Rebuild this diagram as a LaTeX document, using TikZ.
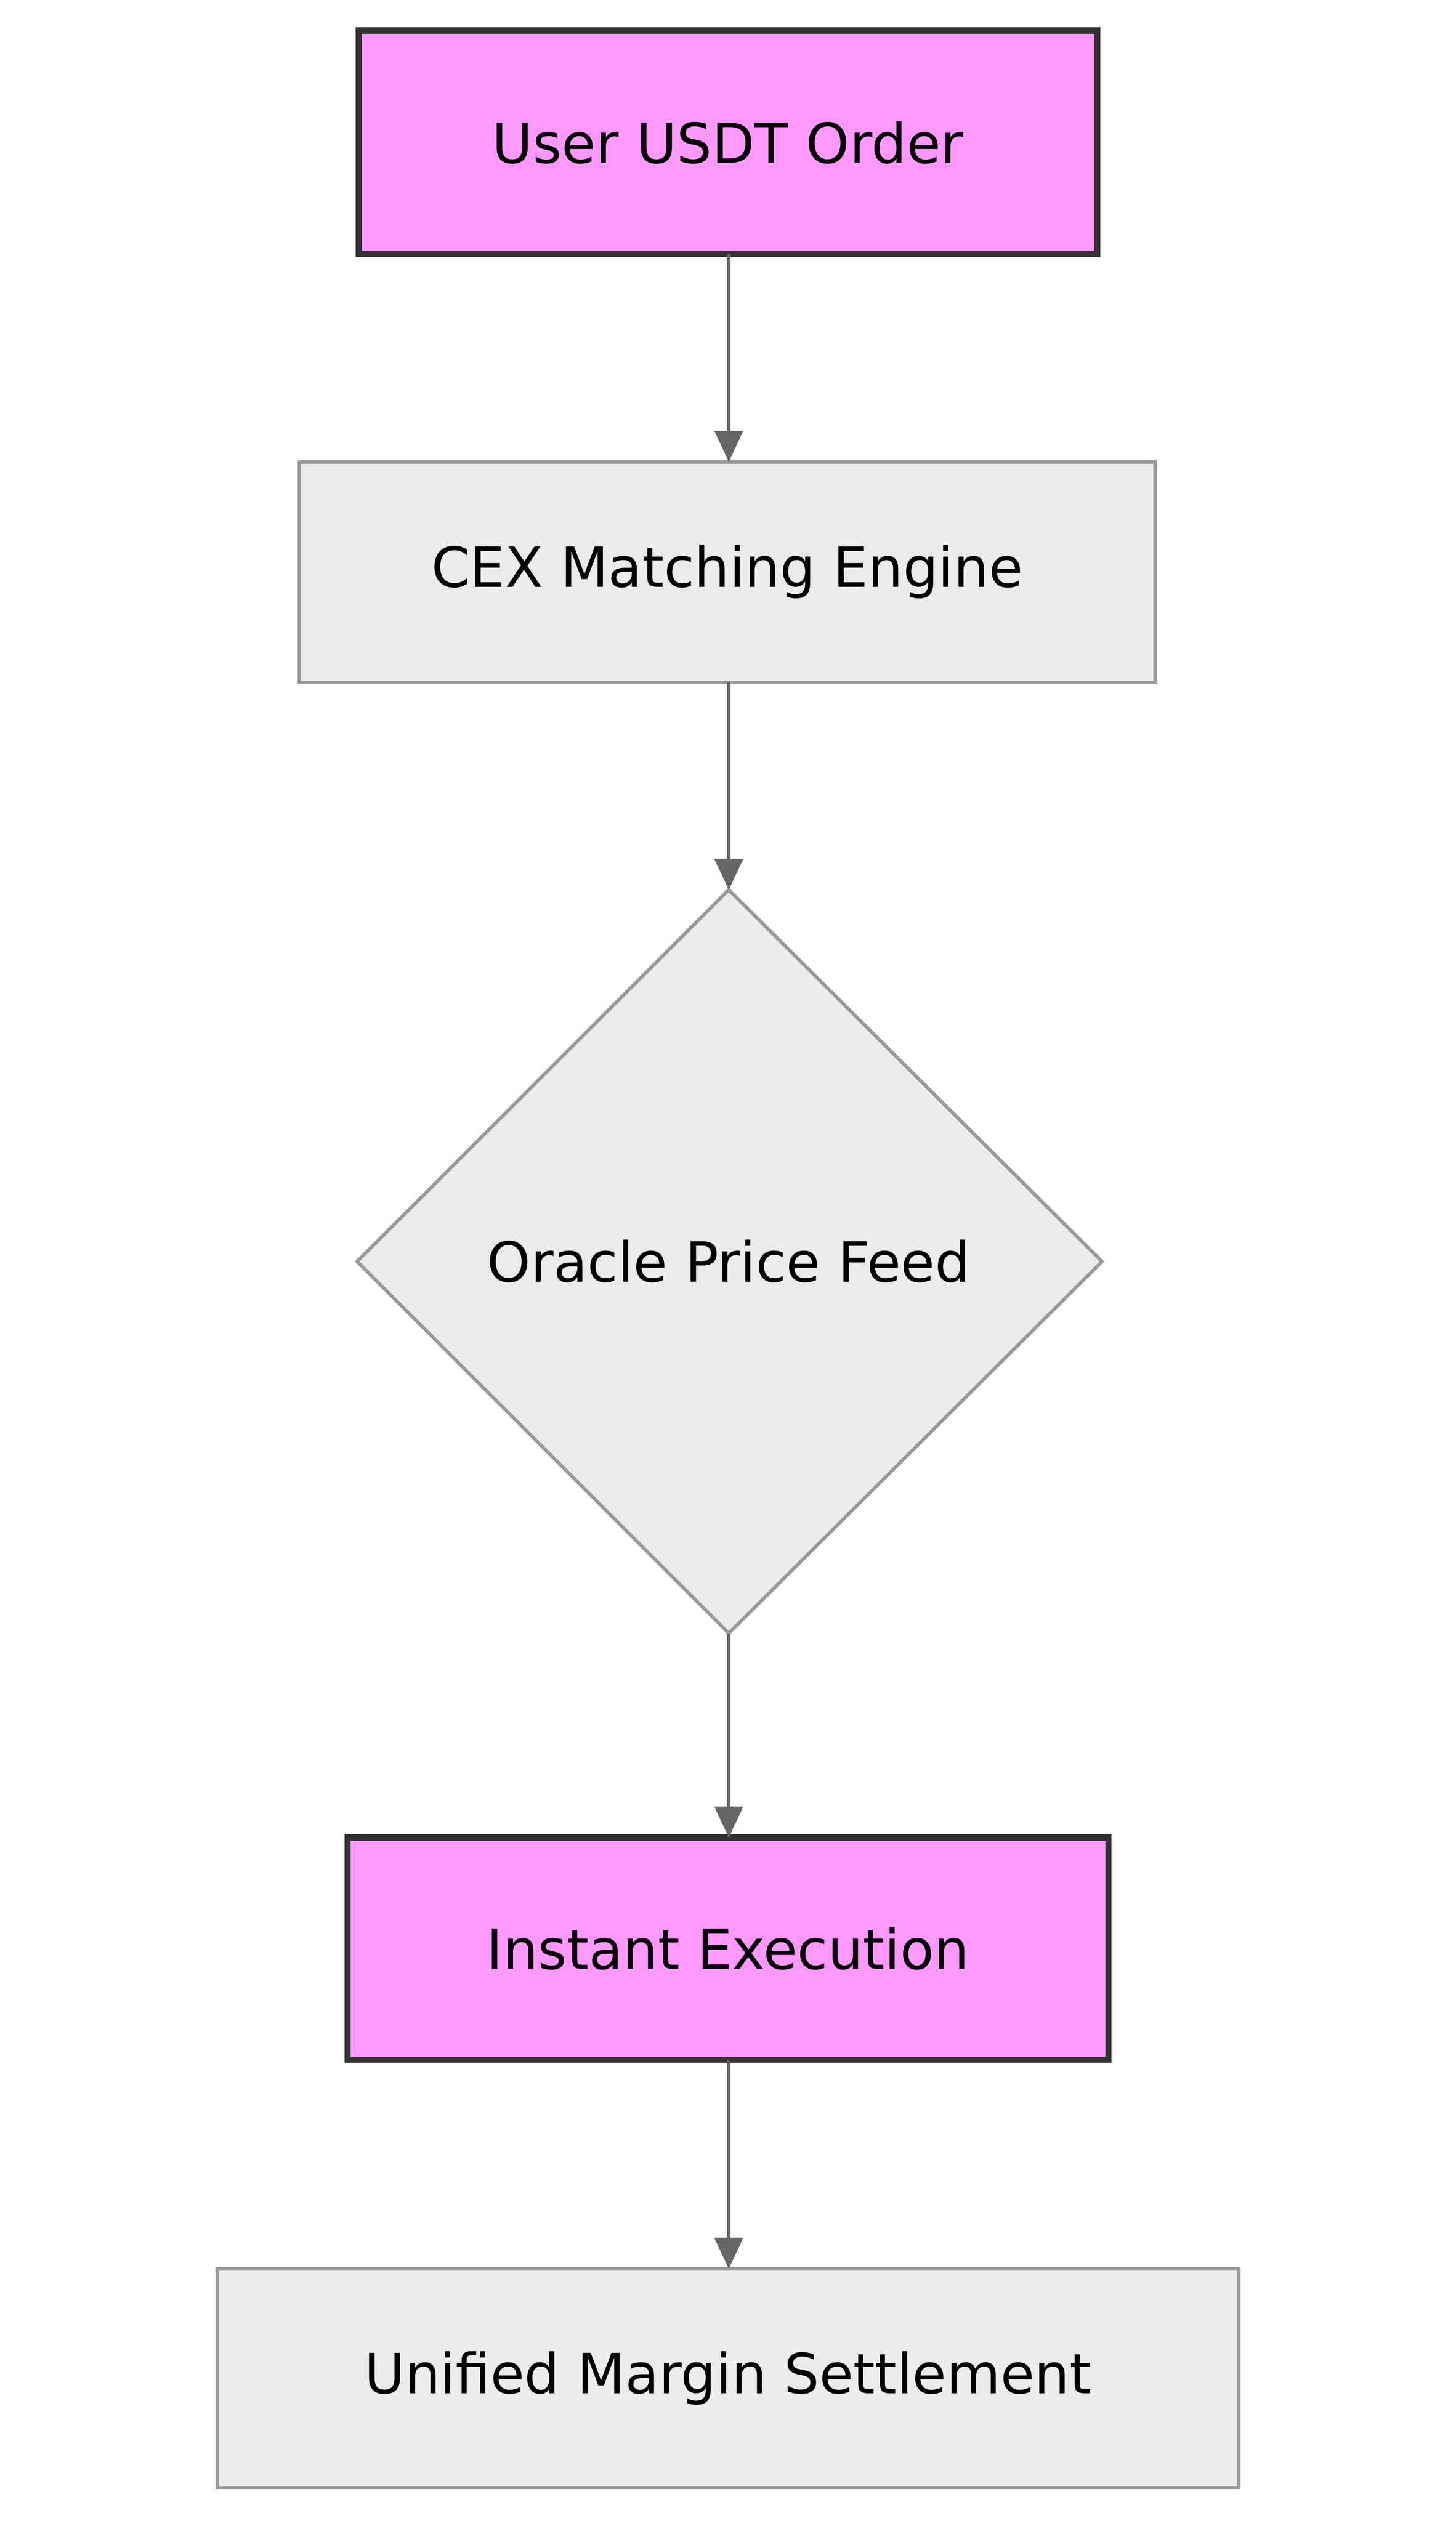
\documentclass[tikz,border=0pt]{standalone}
\usepackage{fontspec}
\setmainfont{DejaVu Sans}
\usetikzlibrary{shapes.geometric,arrows.meta}
\definecolor{pinkf}{HTML}{FF99FF}
\definecolor{greyf}{HTML}{ECECEC}
\definecolor{greyb}{HTML}{999999}
\definecolor{darkb}{HTML}{333333}
\definecolor{arr}{HTML}{666666}
\begin{document}
\begin{tikzpicture}[x=0.1cm,y=-0.1cm,
  txt/.style={font=\fontsize{98}{110}\selectfont},
  pinkbox/.style={fill=pinkf,draw=darkb,line width=11pt},
  greybox/.style={fill=greyf,draw=greyb,line width=6pt},
  con/.style={draw=arr,line width=6pt,-{Triangle[length=55pt,width=50pt]}}]
\useasboundingbox (0,0) rectangle (905,1568);
\draw[pinkbox] (223,19) rectangle (682,158);
\node[txt] (a) at (452.5,88.5) {User USDT Order};
\coordinate (a1) at (453,158);
\draw[greybox] (186,287) rectangle (718,424);
\node[txt] (b) at (452,355.5) {CEX Matching Engine};
\coordinate (b0) at (453,287); \coordinate (b1) at (453,424);
\draw[greybox] (453,553) -- (685,784) -- (453,1015) -- (222,784) -- cycle;
\node[txt] (c) at (453,784) {Oracle Price Feed};
\coordinate (c0) at (453,553); \coordinate (c1) at (453,1015);
\draw[pinkbox] (216,1142) rectangle (689,1280);
\node[txt] (d) at (452.5,1211) {Instant Execution};
\coordinate (d0) at (453,1142); \coordinate (d1) at (453,1280);
\draw[greybox] (135,1410) rectangle (770,1546);
\node[txt] (e) at (452.5,1478) {Unified Margin Settlement};
\coordinate (e0) at (453,1410);
\draw[con] (a1) -- (b0);
\draw[con] (b1) -- (c0);
\draw[con] (c1) -- (d0);
\draw[con] (d1) -- (e0);
\end{tikzpicture}
\end{document}
